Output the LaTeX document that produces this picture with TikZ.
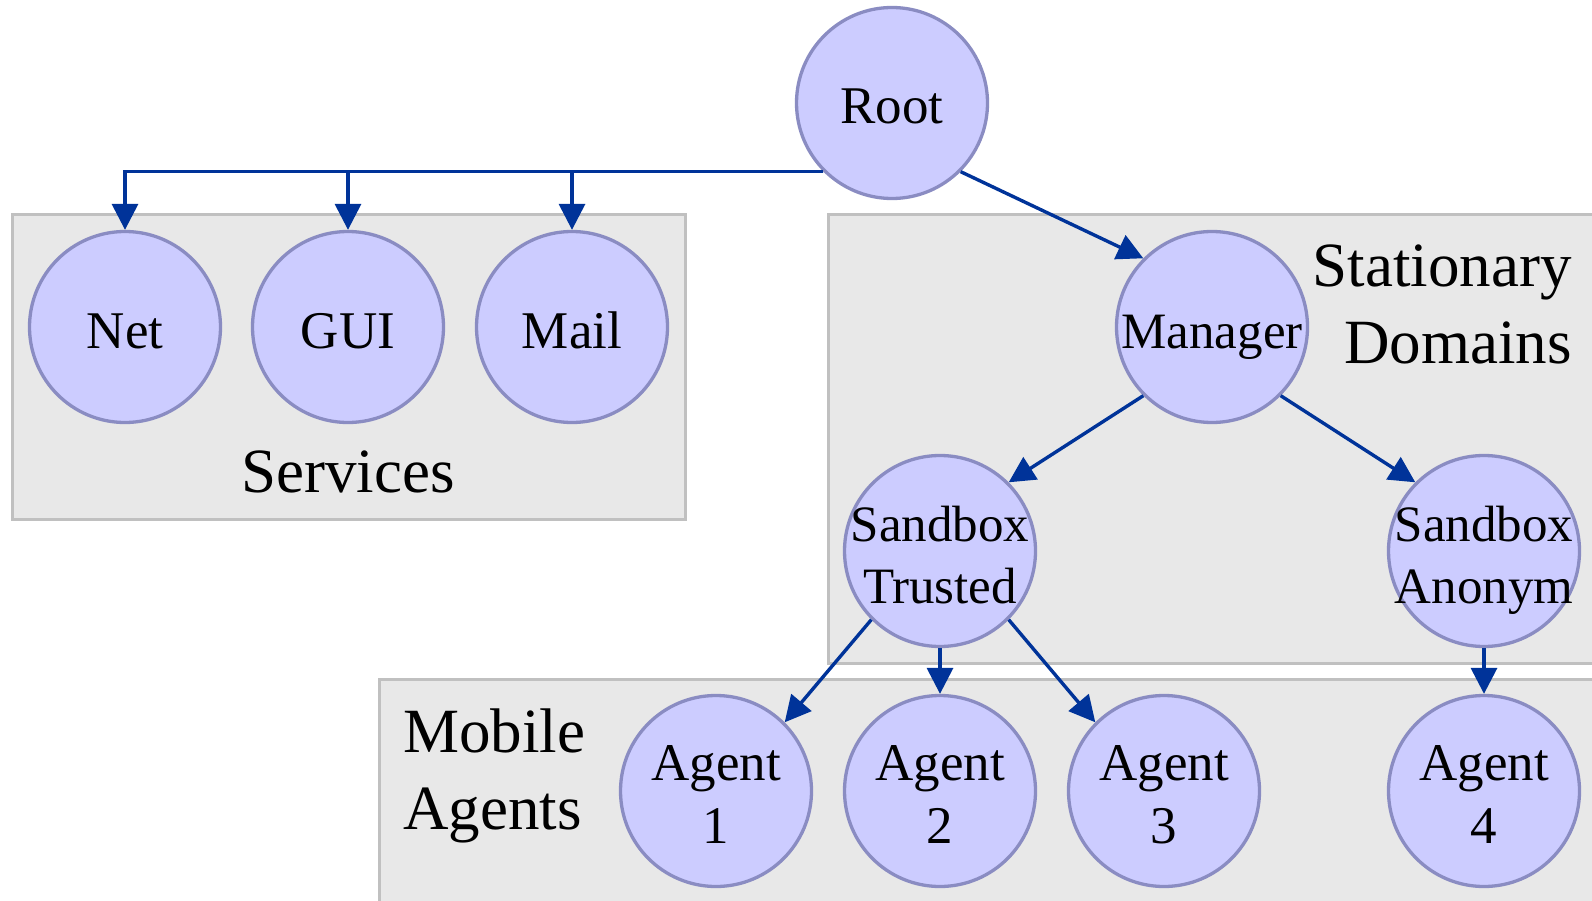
\documentclass[tikz,border=0pt]{standalone}
\usepackage{fontspec}
\setmainfont{Liberation Serif}
\usetikzlibrary{arrows.meta}
\definecolor{nodefill}{HTML}{CCCCFF}
\definecolor{nodeline}{HTML}{8A8CC2}
\definecolor{arrowc}{HTML}{003399}
\definecolor{boxfill}{HTML}{E8E8E8}
\definecolor{boxline}{HTML}{C0C0C0}
\newcommand\liftstrut{\rule{0pt}{42pt}}
\begin{document}
\begin{tikzpicture}[x=1pt,y=-1pt,
  agent/.style={circle, draw=nodeline, fill=nodefill, line width=3.3pt, minimum size=191pt, inner sep=-12pt, align=center, text depth=0pt, font=\fontsize{53}{63}\selectfont},
  smallagent/.style={agent, font=\fontsize{51}{62}\selectfont},
  conn/.style={draw=arrowc, line width=3.4pt, -{Triangle[length=26pt,width=26pt]}},
  group/.style={draw=boxline, fill=boxfill, line width=3pt},
  grouplabel/.style={font=\fontsize{63}{77}\selectfont, inner sep=0pt}]
\useasboundingbox (0,0) rectangle (1592,901);
\clip (0,0) rectangle (1592,901);
% groups
\path[group] (12,215) rectangle (685,519);
\path[group] (828,215) rectangle (1620,663);
\path[group] (379,679) rectangle (1620,930);
% nodes
\node[agent] (root) at (892,103) {\liftstrut Root};
\node[agent] (net) at (125,327) {\liftstrut Net};
\node[agent] (gui) at (348,327) {\liftstrut GUI};
\node[agent] (mail) at (572,327) {\liftstrut Mail};
\node[smallagent] (manager) at (1212,327) {\liftstrut Manager};
\node[smallagent] (trusted) at (940,551) {\liftstrut Sandbox\\Trusted};
\node[smallagent] (anonym) at (1484,551) {\liftstrut Sandbox\\Anonym};
\node[agent] (a1) at (716,791) {\liftstrut Agent\\1};
\node[agent] (a2) at (940,791) {\liftstrut Agent\\2};
\node[agent] (a3) at (1164,791) {\liftstrut Agent\\3};
\node[agent] (a4) at (1484,791) {\liftstrut Agent\\4};
% labels
\node[grouplabel, anchor=base] (services) at (348,492) {Services};
\node[grouplabel, anchor=north east, align=right] (stat) at (1572,245) {Stationary\\Domains};
\node[grouplabel, anchor=north west, align=left] (mobile) at (403,709) {Mobile\\Agents};
% connectors
\draw[conn] (root.225) -| (net.north);
\draw[conn] (root.225) -| (gui.north);
\draw[conn] (root.225) -| (mail.north);
\draw[conn] (root.-45) -- (manager.135);
\draw[conn] (manager.225) -- (trusted.45);
\draw[conn] (manager.-45) -- (anonym.135);
\draw[conn] (trusted.225) -- (a1.45);
\draw[conn] (trusted.south) -- (a2.north);
\draw[conn] (trusted.-45) -- (a3.135);
\draw[conn] (anonym.south) -- (a4.north);
\end{tikzpicture}
\end{document}
